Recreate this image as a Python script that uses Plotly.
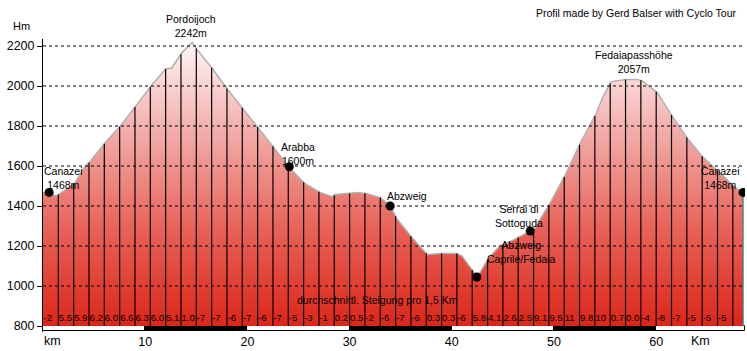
import numpy as np
import plotly.graph_objects as go

# ---- data ----
profile_km = [0, 0.6, 1.3, 3.1, 4.0, 4.6, 6.1, 7.6, 9.1, 10.6, 12.0, 12.6, 13.6, 14.6, 15.1,
              16.6, 18.1, 19.6, 21.1, 22.6, 24.0, 25.6, 27.1, 28.3, 28.6, 30.1, 30.8, 31.6,
              33.0, 34.0, 34.6, 36.1, 37.6, 39.0, 40.5, 41.0, 42.5, 43.6, 44.7, 45.7, 46.5,
              47.7, 48.1, 49.6, 51.1, 52.6, 54.1, 54.8, 55.6, 57.1, 58.1, 58.6, 60.1, 61.6,
              63.1, 64.6, 66.1, 67.6, 68.5]
profile_elev = [1468, 1462, 1450, 1513, 1590, 1622, 1717, 1802, 1902, 2002, 2085, 2090, 2167,
                2218, 2180, 2085, 1980, 1885, 1788, 1692, 1596, 1513, 1468, 1447, 1458, 1463,
                1468, 1463, 1442, 1400, 1338, 1243, 1158, 1163, 1163, 1150, 1045, 1140, 1200,
                1222, 1242, 1275, 1288, 1413, 1555, 1717, 1860, 1947, 2022, 2033, 2033, 2027,
                1967, 1847, 1735, 1643, 1572, 1497, 1468]

segment_km = 1.5
grades = ["-2", "5.5", "5.9", "6.2", "6.0", "6.6", "6.3", "6.0", "5.1", "1.0", "-7", "-7", "-6",
          "-7", "-6", "-7", "-5", "-3", "-1", "0.2", "0.5", "-2", "-6", "-7", "-6", "0.3", "0.3",
          "-6", "5.8", "4.1", "2.6", "2.5", "9.1", "9.5", "11", "9.8", "10", "0.7", "0.0", "-4",
          "-8", "-7", "-5", "-5", "-5"]

place_km = [0.6, 24.1, 33.97, 42.45, 47.67, 68.5]
place_elev = [1468, 1596, 1400, 1045, 1275, 1468]

y_ticks = [800, 1000, 1200, 1400, 1600, 1800, 2000, 2200]
x_ticks = [10, 20, 30, 40, 50, 60]
scale_edges = [0, 10, 20, 30, 40, 50, 60, 68.69]

total_km = 68.5
x_max = 68.69
y_min, y_max = 770, 2235
base = 800

FONT = "Liberation Sans, Arial, sans-serif"

fig = go.Figure()

fig.add_trace(go.Scatter(x=[0, total_km], y=[base, base], mode="lines",
                         line=dict(width=0), hoverinfo="skip", showlegend=False))
fig.add_trace(go.Scatter(
    x=profile_km, y=profile_elev, mode="lines", fill="tonexty",
    line=dict(color="#b0b0b0", width=1.5),
    fillgradient=dict(type="vertical", start=base, stop=2242,
                      colorscale=[[0, "#dc2618"], [0.35, "#e8655b"],
                                  [0.7, "#f3b3b0"], [1, "#fffafa"]]),
    hoverinfo="skip", showlegend=False))

nseg = int(total_km // segment_km)
vx, vy = [], []
for k in range(1, nseg + 1):
    xk = k * segment_km
    vx += [xk, xk, None]
    vy += [base, float(np.interp(xk, profile_km, profile_elev)), None]
fig.add_trace(go.Scatter(x=vx, y=vy, mode="lines", line=dict(color="black", width=1.2),
                         hoverinfo="skip", showlegend=False))
fig.add_trace(go.Scatter(x=[total_km, total_km], y=[base, profile_elev[-1]], mode="lines",
                         line=dict(color="#2f7f80", width=1.2), hoverinfo="skip",
                         showlegend=False))

gx, gy = [], []
for v in y_ticks[1:]:
    gx += [0, x_max, None]
    gy += [v, v, None]
fig.add_trace(go.Scatter(x=gx, y=gy, mode="lines",
                         line=dict(color="black", width=1, dash="3px,3px"),
                         hoverinfo="skip", showlegend=False))

centers, widths, colors = [], [], []
for i in range(len(scale_edges) - 1):
    centers.append((scale_edges[i] + scale_edges[i + 1]) / 2)
    widths.append(scale_edges[i + 1] - scale_edges[i])
    colors.append("white" if i % 2 == 0 else "black")
fig.add_trace(go.Bar(x=centers, y=[base - 775] * len(centers), base=775, width=widths,
                     marker=dict(color=colors, line=dict(color="black", width=1)),
                     hoverinfo="skip", showlegend=False))

fig.add_trace(go.Scatter(
    x=[k * segment_km + 0.05 for k in range(len(grades))], y=[835] * len(grades),
    mode="text", text=grades, textposition="middle right",
    textfont=dict(family=FONT, size=9.5, color="black"),
    hoverinfo="skip", showlegend=False))

fig.add_trace(go.Scatter(x=place_km, y=place_elev, mode="markers",
                         marker=dict(color="black", size=9), hoverinfo="skip",
                         showlegend=False))

# labels inside the plot (data coordinates)
labels = [
    ("Fedaiapasshöhe<br>2057m", 57.8, 2120),
    ("Canazei<br>1468m", 2.0, 1540),
    ("Arabba<br>1600m", 24.97, 1662),
    ("Abzweig", 35.64, 1450),
    ("Serrai di<br>Sottoguda", 46.55, 1348),
    ("Abzweig<br>Caprile/Fedaia", 46.76, 1170),
    ("Canazei<br>1468m", 66.3, 1540),
    ("durchschnittl. Steigung pro 1,5 Km", 32.7, 928),
]
for txt, x, y in labels:
    fig.add_annotation(x=x, y=y, text=txt, showarrow=False,
                       font=dict(family=FONT, size=10.5, color="black"),
                       xanchor="center", yanchor="middle")

# labels outside the plot area (paper coordinates)
paper_labels = [
    ("Pordoijoch<br>2242m", 0.2105, 1.044, "center", 10.5),
    ("Profil made by Gerd Balser with Cyclo Tour", 0.8454, 1.0877, "center", 10.5),
    ("Hm", -0.0313, 1.0444, "center", 11),
    ("km", -0.002, -0.030, "left", 12.5),
    ("Km", 0.9359, -0.030, "center", 12.5),
]
for txt, x, y, xa, sz in paper_labels:
    fig.add_annotation(x=x, y=y, xref="paper", yref="paper", text=txt, showarrow=False,
                       font=dict(family=FONT, size=sz, color="black"),
                       xanchor=xa, yanchor="middle")

fig.update_layout(
    width=747, height=351,
    margin=dict(l=43, r=2, t=39, b=19, autoexpand=False),
    paper_bgcolor="white", plot_bgcolor="white",
    showlegend=False, bargap=0,
    xaxis=dict(range=[0, x_max], tickvals=x_ticks, ticks="", showgrid=False,
               zeroline=False, showline=False,
               tickfont=dict(family=FONT, size=12.5, color="black")),
    yaxis=dict(range=[y_min, y_max], tickvals=y_ticks, ticks="outside", ticklen=5,
               tickcolor="black", showgrid=False, zeroline=False, showline=True,
               linecolor="black", linewidth=1,
               tickfont=dict(family=FONT, size=12.5, color="black")),
)

fig.write_html("out.html")
